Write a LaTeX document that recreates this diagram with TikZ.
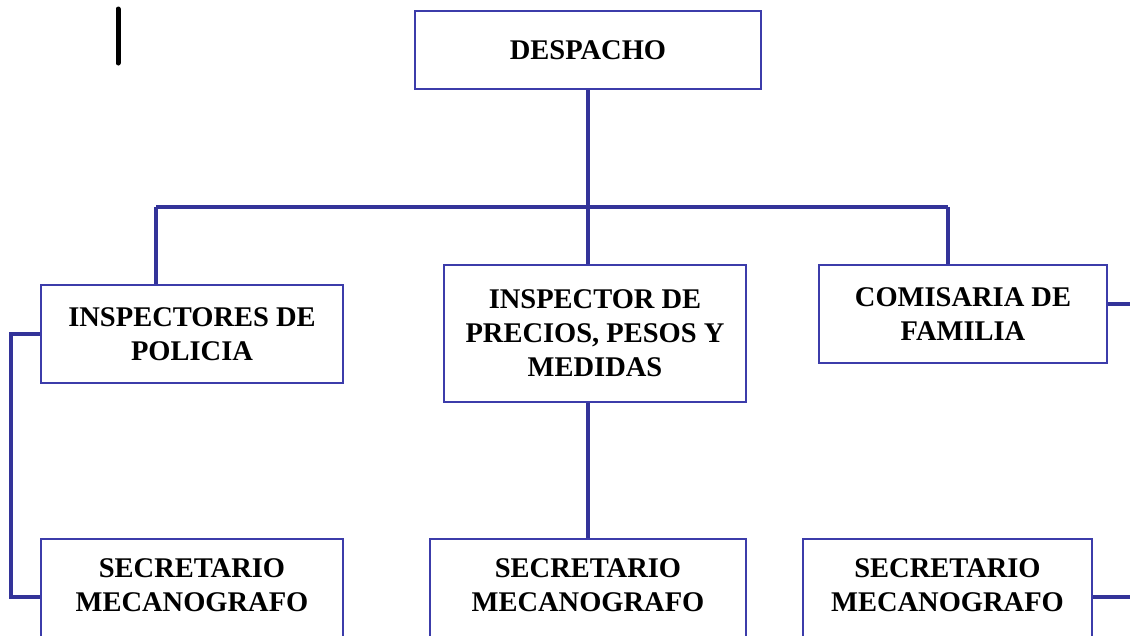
\documentclass[tikz,border=0pt]{standalone}
\usepackage{fontspec}
\setmainfont{Liberation Serif}
\definecolor{orgline}{RGB}{51,51,153}
\definecolor{orgbox}{RGB}{60,60,170}
\tikzset{
  box/.style={draw=orgbox, line width=1.8pt, align=center, inner sep=0pt,
    font=\bfseries\fontsize{28.5}{34}\selectfont},
  lbl/.style={align=center, inner sep=0pt, font=\bfseries\fontsize{28.5}{34}\selectfont},
  conn/.style={draw=orgline, line width=4.5pt},
}
\begin{document}
\begin{tikzpicture}[x=1pt,y=-1pt]
\useasboundingbox (0,0) rectangle (1130,635);
\clip (0,0) rectangle (1130,635);
% top level
\node [box, minimum width=346, minimum height=78] (desp) at (588,50) {DESPACHO};
% second level
\node [box, minimum width=302, minimum height=98] (insp) at (192,334) {INSPECTORES DE\\POLICIA};
\node [box, minimum width=302, minimum height=137] (prec) at (595,333.5) {INSPECTOR DE\\PRECIOS, PESOS Y\\MEDIDAS};
\node [box, minimum width=288, minimum height=98] (comi) at (963,314) {COMISARIA DE\\FAMILIA};
% third level (cut off at the bottom)
\node [box, minimum width=302, minimum height=116] (sec1) at (192,597) {};
\node [box, minimum width=316, minimum height=116] (sec2) at (588,597) {};
\node [box, minimum width=289, minimum height=116] (sec3) at (947.5,597) {};
\node [lbl] (sec1txt) at (192,585) {SECRETARIO\\MECANOGRAFO};
\node [lbl] (sec2txt) at (588,585) {SECRETARIO\\MECANOGRAFO};
\node [lbl] (sec3txt) at (947.5,585) {SECRETARIO\\MECANOGRAFO};
% connectors
\coordinate (barL) at (156,207);
\coordinate (barR) at (948,207);
\draw [conn] (desp.south) -- (desp.south |- prec.north);
\draw [conn] (barL) -- (barR);
\draw [conn] (barL) -- (barL |- insp.north);
\draw [conn] (barR) -- (barR |- comi.north);
\draw [conn] (prec.south -| sec2.north) -- (sec2.north);
\draw [conn] (insp.west) -- ++(-29,0) |- (sec1.west);
\draw [conn] ([yshift=10pt]comi.east) -- ++(30,0);
\draw [conn] (sec3.east) -- ++(45,0);
% stray mark
\draw [line width=5pt, line cap=round] (118,9) -- (118,63);
\end{tikzpicture}
\end{document}
